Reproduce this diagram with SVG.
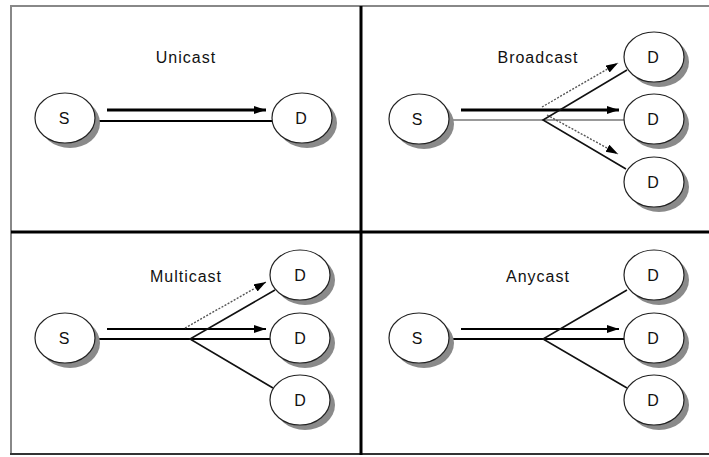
<svg xmlns="http://www.w3.org/2000/svg" width="709" height="457" viewBox="0 0 709 457">
<style>
.title{font-family:"Liberation Sans",Arial,sans-serif;font-size:16px;letter-spacing:1px;fill:#111;text-anchor:middle}
.lbl{font-family:"Liberation Sans",Arial,sans-serif;font-size:16px;fill:#111;text-anchor:middle}
.node{fill:#fff;stroke:#222;stroke-width:1.2}
.shadow{fill:#8a8a8a}
.thick{stroke:#000;stroke-width:3;fill:none}
.med{stroke:#000;stroke-width:2.2;fill:none}
.thin{stroke:#111;stroke-width:1.6;fill:none}
.gray{stroke:#999;stroke-width:2;fill:none}
.dot{stroke:#555;stroke-width:1.4;stroke-dasharray:2 1.5;fill:none}
</style>
<defs>
<marker id="ah" markerUnits="userSpaceOnUse" markerWidth="14" markerHeight="10" refX="12" refY="4" orient="auto">
<path d="M0,0 L12,4 L0,8 Z" fill="#000"/>
</marker>
</defs>
<rect width="709" height="457" fill="#fff"/>
<g id="frame">
<line x1="10" y1="6" x2="709" y2="6" stroke="#888" stroke-width="2"/>
<line x1="11" y1="6" x2="11" y2="455" stroke="#888" stroke-width="2"/>
<line x1="10" y1="454" x2="709" y2="454" stroke="#333" stroke-width="2"/>
<line x1="361" y1="6" x2="361" y2="455" stroke="#000" stroke-width="3"/>
<line x1="11" y1="232" x2="709" y2="232" stroke="#000" stroke-width="3"/>
</g>
<g id="titles">
<text class="title" x="186" y="63">Unicast</text>
<text class="title" x="538" y="63">Broadcast</text>
<text class="title" x="186" y="282">Multicast</text>
<text class="title" x="538" y="282">Anycast</text>
</g>
<g id="connectors">
<line class="thick" x1="107" y1="110" x2="266" y2="110" marker-end="url(#ah)"/>
<line class="med" x1="96" y1="121" x2="272" y2="121"/>
<line class="thick" x1="461" y1="110" x2="619" y2="110" marker-end="url(#ah)"/>
<line class="gray" x1="449" y1="120" x2="625" y2="120"/>
<polyline class="thin" points="627,70 543,120 626,169"/>
<line class="dot" x1="542" y1="107" x2="618" y2="63" marker-end="url(#ah)"/>
<line class="dot" x1="547" y1="115" x2="618" y2="154" marker-end="url(#ah)"/>
<line class="med" x1="107" y1="329" x2="266" y2="329" marker-end="url(#ah)"/>
<line class="med" x1="96" y1="339" x2="272" y2="339"/>
<polyline class="thin" points="275,290 190,339 273,388"/>
<line class="dot" x1="185" y1="328" x2="266" y2="282" marker-end="url(#ah)"/>
<line class="med" x1="461" y1="329" x2="619" y2="329" marker-end="url(#ah)"/>
<line class="med" x1="449" y1="339" x2="625" y2="339"/>
<polyline class="thin" points="627,290 543,339 627,388"/>
</g>
<g id="u-s"><ellipse class="shadow" cx="70" cy="123" rx="30" ry="25"/><ellipse class="node" cx="65" cy="118" rx="30" ry="25"/><text class="lbl" x="64" y="124">S</text></g>
<g id="u-d"><ellipse class="shadow" cx="307" cy="123" rx="30" ry="25"/><ellipse class="node" cx="302" cy="118" rx="30" ry="25"/><text class="lbl" x="301" y="124">D</text></g>
<g id="b-s"><ellipse class="shadow" cx="424" cy="124" rx="30" ry="25"/><ellipse class="node" cx="419" cy="119" rx="30" ry="25"/><text class="lbl" x="417" y="125">S</text></g>
<g id="b-d1"><ellipse class="shadow" cx="659" cy="62" rx="30" ry="25"/><ellipse class="node" cx="654" cy="57" rx="30" ry="25"/><text class="lbl" x="653" y="63">D</text></g>
<g id="b-d2"><ellipse class="shadow" cx="659" cy="124" rx="30" ry="25"/><ellipse class="node" cx="654" cy="119" rx="30" ry="25"/><text class="lbl" x="653" y="125">D</text></g>
<g id="b-d3"><ellipse class="shadow" cx="659" cy="187" rx="30" ry="25"/><ellipse class="node" cx="654" cy="182" rx="30" ry="25"/><text class="lbl" x="653" y="188">D</text></g>
<g id="m-s"><ellipse class="shadow" cx="70" cy="343" rx="30" ry="25"/><ellipse class="node" cx="65" cy="338" rx="30" ry="25"/><text class="lbl" x="64" y="344">S</text></g>
<g id="m-d1"><ellipse class="shadow" cx="305" cy="280" rx="30" ry="25"/><ellipse class="node" cx="300" cy="275" rx="30" ry="25"/><text class="lbl" x="300" y="281">D</text></g>
<g id="m-d2"><ellipse class="shadow" cx="305" cy="343" rx="30" ry="25"/><ellipse class="node" cx="300" cy="338" rx="30" ry="25"/><text class="lbl" x="300" y="344">D</text></g>
<g id="m-d3"><ellipse class="shadow" cx="305" cy="405" rx="30" ry="25"/><ellipse class="node" cx="300" cy="400" rx="30" ry="25"/><text class="lbl" x="300" y="406">D</text></g>
<g id="a-s"><ellipse class="shadow" cx="424" cy="343" rx="30" ry="25"/><ellipse class="node" cx="419" cy="338" rx="30" ry="25"/><text class="lbl" x="417" y="344">S</text></g>
<g id="a-d1"><ellipse class="shadow" cx="659" cy="280" rx="30" ry="25"/><ellipse class="node" cx="654" cy="275" rx="30" ry="25"/><text class="lbl" x="653" y="281">D</text></g>
<g id="a-d2"><ellipse class="shadow" cx="659" cy="343" rx="30" ry="25"/><ellipse class="node" cx="654" cy="338" rx="30" ry="25"/><text class="lbl" x="653" y="344">D</text></g>
<g id="a-d3"><ellipse class="shadow" cx="659" cy="405" rx="30" ry="25"/><ellipse class="node" cx="654" cy="400" rx="30" ry="25"/><text class="lbl" x="653" y="406">D</text></g>
</svg>
